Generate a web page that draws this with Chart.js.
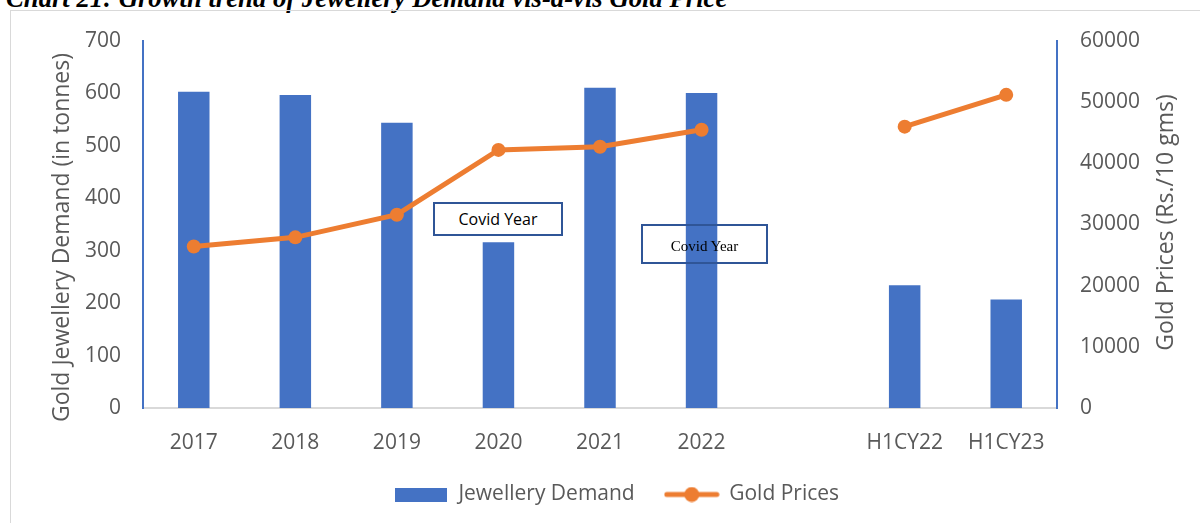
<!DOCTYPE html>
<html>
<head>
<meta charset="utf-8">
<script src="https://cdn.jsdelivr.net/npm/chart.js@4"></script>
<style>
  html, body { margin: 0; padding: 0; background: #fff; }
  body { width: 1200px; height: 523px; position: relative; overflow: hidden; }
  #title {
    position: absolute; left: 6px; top: -17px; white-space: nowrap;
    font: italic bold 26.7px "Liberation Serif", "Times New Roman", serif; color: #000;
  }
  #frame {
    position: absolute; left: 10px; top: 10px; width: 1200px; height: 523px;
    border: 1.5px solid #d9d9d9; box-sizing: border-box;
  }
  #wrap { position: absolute; left: 0; top: 0; width: 1200px; height: 523px; }
  .note {
    position: absolute; box-sizing: border-box; border: 2px solid #2f5597;
    display: flex; align-items: center; justify-content: center; color: #000;
  }
  #note1 { left: 433px; top: 202px; width: 130px; height: 34px; background: #fff;
    font: 16px "Open Sans", sans-serif; }
  #note2 { left: 641px; top: 224px; width: 127px; height: 40px; background: transparent;
    font: 15px "Liberation Serif", serif; padding-top: 4px; }
</style>
</head>
<body>
<div id="title">Chart 21: Growth trend of Jewellery Demand vis-à-vis Gold Price</div>
<div id="frame"></div>
<div id="wrap"><canvas id="chart" width="1200" height="523"></canvas></div>
<div class="note" id="note1">Covid Year</div>
<div class="note" id="note2">Covid Year</div>
<script>
// categories (blank slot between 2022 and the half-year figures)
const categories = ["2017", "2018", "2019", "2020", "2021", "2022", "", "H1CY22", "H1CY23"];
// tonnes
const jewelleryDemand = [603, 597, 544, 316, 611, 601, null, 234, 207];
// Rs./10 gms
const goldPrices = [26400, 27900, 31600, 42200, 42700, 45500, null, 46000, 51200];
const demandTicks = [0, 100, 200, 300, 400, 500, 600, 700];
const priceTicks = [0, 10000, 20000, 30000, 40000, 50000, 60000];

const blue = '#4472c4';
const orange = '#ed7d31';
const grey = '#595959';
const font = 'Open Sans';
const leftTitle = 'Gold Jewellery Demand (in tonnes)';
const rightTitle = 'Gold Prices (Rs./10 gms)';

// legend swatches
function barSwatch() {
    const c = document.createElement('canvas');
    c.width = 52; c.height = 14;
    const ctx = c.getContext('2d');
    ctx.fillStyle = blue;
    ctx.fillRect(0, 0, 52, 14);
    return c;
}
function lineSwatch() {
    const c = document.createElement('canvas');
    c.width = 56; c.height = 16;
    const ctx = c.getContext('2d');
    ctx.strokeStyle = orange;
    ctx.lineWidth = 5;
    ctx.lineCap = 'round';
    ctx.beginPath();
    ctx.moveTo(3, 8); ctx.lineTo(53, 8);
    ctx.stroke();
    ctx.fillStyle = orange;
    ctx.beginPath();
    ctx.arc(28, 8, 7.5, 0, Math.PI * 2);
    ctx.fill();
    return c;
}
const swatches = [barSwatch(), lineSwatch()];

// both axis titles read bottom-to-top
function drawVertical(c, text, x, y) {
    c.save();
    c.translate(x, y);
    c.rotate(-Math.PI / 2);
    c.font = '23px "' + font + '"';
    c.fillStyle = grey;
    c.textAlign = 'center';
    c.textBaseline = 'middle';
    c.fillText(text, 0, 0);
    c.restore();
}
const axisTitlesPlugin = {
    id: 'axisTitles',
    afterDraw(chart) {
        const s = chart.scales.y;
        const mid = (s.top + s.bottom) / 2;
        drawVertical(chart.ctx, leftTitle, 62, mid + 13);
        drawVertical(chart.ctx, rightTitle, 1166, mid - 2);
    }
};

const ctx = document.getElementById('chart').getContext('2d');
new Chart(ctx, {
    type: 'bar',
    data: {
        labels: categories,
        datasets: [{
            type: 'line',
            label: 'Gold Prices',
            data: goldPrices,
            yAxisID: 'y1',
            borderColor: orange,
            backgroundColor: orange,
            borderWidth: 5,
            pointRadius: 7,
            pointHoverRadius: 7,
            pointBorderWidth: 0,
            spanGaps: false,
            tension: 0,
            order: 0
        }, {
            type: 'bar',
            label: 'Jewellery Demand',
            data: jewelleryDemand,
            yAxisID: 'y',
            backgroundColor: blue,
            categoryPercentage: 1,
            barPercentage: 0.31,
            order: 1
        }]
    },
    plugins: [axisTitlesPlugin],
    options: {
        responsive: false,
        animation: false,
        layout: { padding: { top: 41, bottom: 8, left: 33, right: 0 } },
        plugins: {
            tooltip: { enabled: false },
            legend: {
                position: 'bottom',
                reverse: true,
                labels: {
                    usePointStyle: true,
                    pointStyleWidth: 54,
                    color: grey,
                    padding: 30,
                    font: { family: font, size: 21 },
                    generateLabels: chart => chart.data.datasets.map((ds, i) => ({
                        text: ds.label,
                        fontColor: grey,
                        pointStyle: swatches[i === 0 ? 1 : 0],
                        datasetIndex: i,
                        hidden: false,
                        lineWidth: 0
                    }))
                }
            }
        },
        scales: {
            x: {
                grid: { display: false },
                border: { display: true, color: '#d9d9d9', width: 2 },
                ticks: { color: grey, font: { family: font, size: 21 }, padding: 14, maxRotation: 0 },
                afterFit: s => { s.height = 46; }
            },
            y: {
                position: 'left',
                min: 0, max: 700,
                afterBuildTicks: s => { s.ticks = demandTicks.map(v => ({ value: v })); },
                grid: { display: false },
                border: { display: true, color: blue, width: 2 },
                ticks: { color: grey, font: { family: font, size: 21 }, padding: 14 },
                afterFit: s => { s.width = 110; }
            },
            y1: {
                position: 'right',
                min: 0, max: 60000,
                afterBuildTicks: s => { s.ticks = priceTicks.map(v => ({ value: v })); },
                grid: { display: false },
                border: { display: true, color: blue, width: 2 },
                ticks: { color: grey, font: { family: font, size: 21 }, padding: 15,
                         callback: v => String(v) },
                afterFit: s => { s.width = 143; }
            }
        }
    }
});
</script>
</body>
</html>
